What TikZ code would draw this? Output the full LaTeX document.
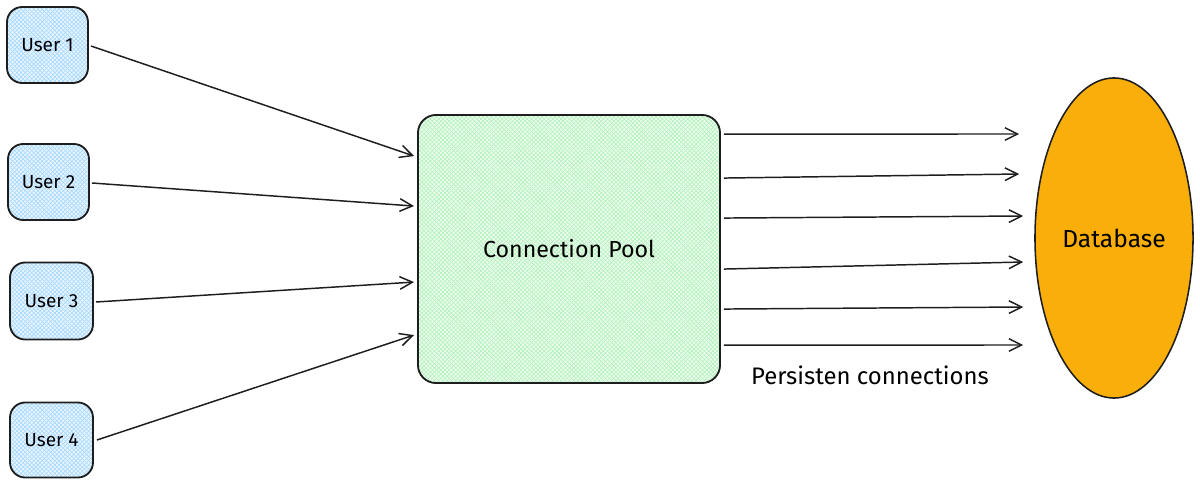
\documentclass[tikz,border=0pt]{standalone}
\usepackage{fontspec}
\setmainfont{Fira Sans}
\usetikzlibrary{arrows.meta,patterns,calc,shapes.geometric}
\definecolor{userfill}{HTML}{A5D8FF}
\definecolor{poolfill}{HTML}{B2F2BB}
\definecolor{dbfill}{HTML}{F9AE0A}
\definecolor{ink}{HTML}{1E1E1E}
\tikzset{
  px/.style={x=0.025cm,y=-0.025cm},
  userbox/.style={draw=ink,line width=1.3pt,rounded corners=0.38cm,
    preaction={fill=userfill!25},
    preaction={pattern=north east lines,pattern color=userfill},
    preaction={pattern=north west lines,pattern color=userfill},
    font=\fontsize{13.5}{15}\selectfont,inner sep=0pt},
  poolbox/.style={draw=ink,line width=1.3pt,rounded corners=0.45cm,
    preaction={fill=poolfill!25},
    preaction={pattern=north east lines,pattern color=poolfill},
    preaction={pattern=north west lines,pattern color=poolfill},
    font=\fontsize{16.5}{18}\selectfont,inner sep=0pt},
  dbnode/.style={ellipse,draw=ink,line width=1.1pt,fill=dbfill,inner sep=0pt,
    font=\fontsize{17.5}{19}\selectfont},
  conn/.style={draw=ink,line width=1.05pt,-{Straight Barb[length=9pt,width=9pt,line width=1.05pt]}},
  lbl/.style={font=\fontsize{17}{19}\selectfont,inner sep=0pt}
}
\begin{document}
\begin{tikzpicture}[px]
\useasboundingbox (0,0) rectangle (1200,486);
\node[userbox,minimum width=2.025cm,minimum height=1.9cm] (u1) at (47.5,45) {User 1};
\node[userbox,minimum width=2.025cm,minimum height=1.9cm] (u2) at (48.5,182) {User 2};
\node[userbox,minimum width=2.075cm,minimum height=1.925cm] (u3) at (51.5,301) {User 3};
\node[userbox,minimum width=2.075cm,minimum height=1.875cm] (u4) at (51.5,440) {User 4};
\node[poolbox,minimum width=7.55cm,minimum height=6.7cm] (pool) at (569,249) {Connection Pool};
\node[dbnode,minimum width=3.95cm,minimum height=8cm] (db) at (1114,238) {Database};
\node[lbl] (pc) at (870,375) {Persisten connections};
% user -> pool
\draw[conn] ($(u1.east)+(2,1)$) -- ($(pool.north west)+(-3,42)$);
\draw[conn] ($(u2.east)+(2,1)$) -- ($(pool.north west)+(-3,92)$);
\draw[conn] ($(u3.east)+(2,1)$) -- ($(pool.north west)+(-3,168)$);
\draw[conn] ($(u4.east)+(3,0)$) -- ($(pool.north west)+(-3,221)$);
% pool -> db
\draw[conn] ($(pool.north east)+(3,20)$) -- ($(db.west)+(-15,-104)$);
\draw[conn] ($(pool.north east)+(3,64)$) -- ($(db.west)+(-15,-64)$);
\draw[conn] ($(pool.north east)+(3,104)$) -- ($(db.west)+(-11,-22)$);
\draw[conn] ($(pool.north east)+(3,155)$) -- ($(db.west)+(-11,24)$);
\draw[conn] ($(pool.north east)+(3,195)$) -- ($(db.west)+(-11,69)$);
\draw[conn] ($(pool.north east)+(3,231)$) -- ($(db.west)+(-11,107)$);
\end{tikzpicture}
\end{document}
